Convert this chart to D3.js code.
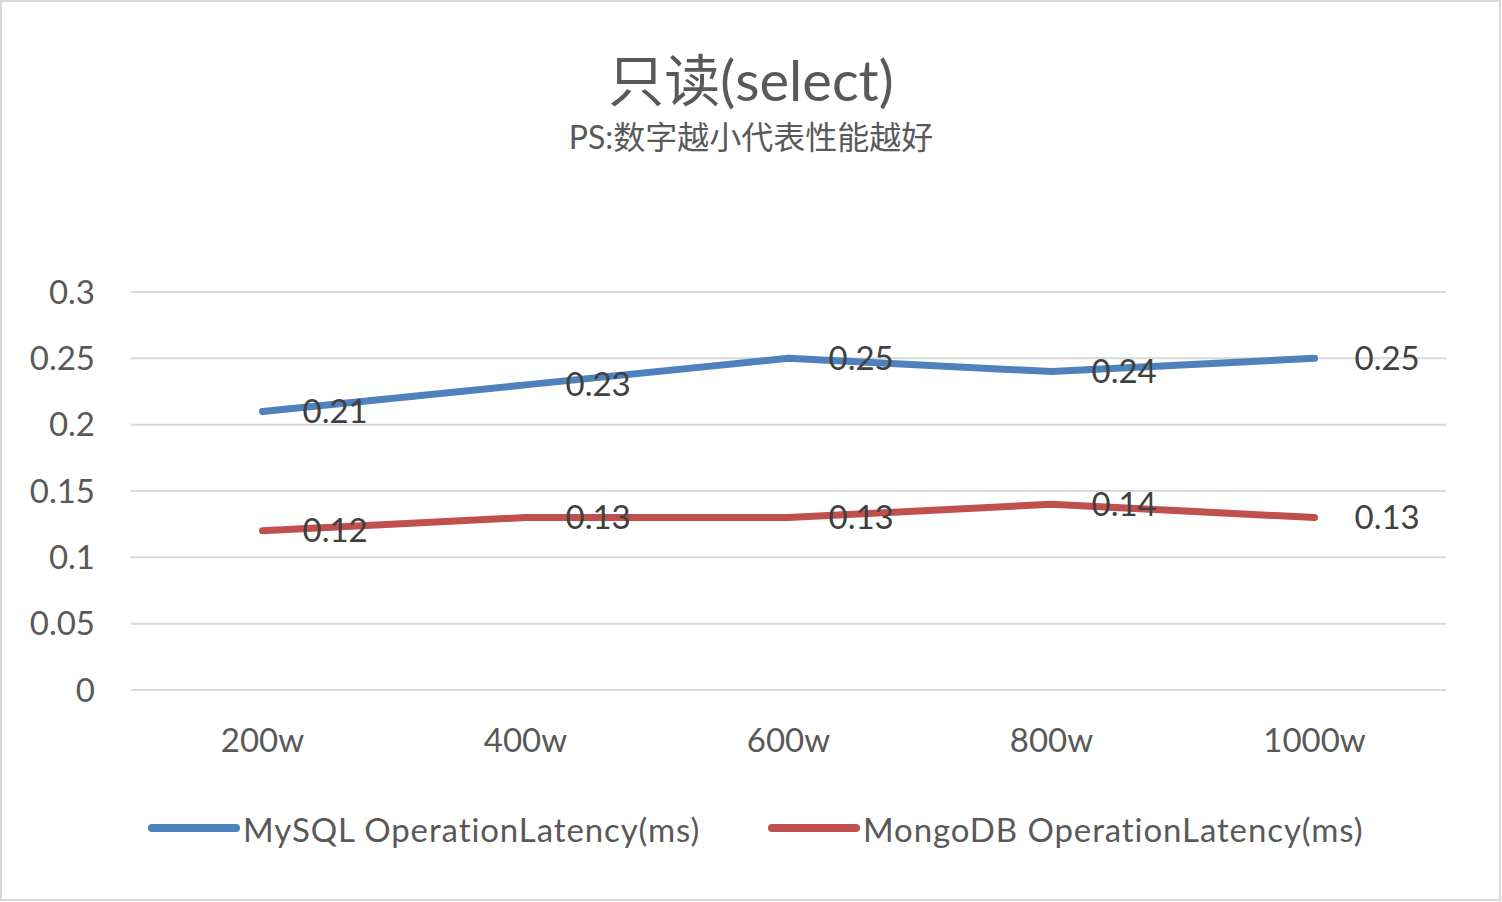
<!DOCTYPE html>
<html>
<head>
<meta charset="utf-8">
<script src="https://cdn.jsdelivr.net/npm/d3@7"></script>
<style>
  body { margin: 0; background: #fff; }
  svg { display: block; font-family: Lato, "Noto Sans CJK SC", sans-serif; }
</style>
</head>
<body>
<svg class="chart"></svg>
<script>
(function() {
  const categories = ["200w", "400w", "600w", "800w", "1000w"];
  const mysql = [0.21, 0.23, 0.25, 0.24, 0.25];
  const mongo = [0.12, 0.13, 0.13, 0.14, 0.13];
  const yTicks = [0, 0.05, 0.1, 0.15, 0.2, 0.25, 0.3];
  const seriesNames = ["MySQL OperationLatency(ms)", "MongoDB OperationLatency(ms)"];
  const colors = ["#4f81bd", "#c0504d"];

  const width = 1502, height = 902;
  const left = 131, right = 1446, top = 292, bottom = 690;

  const svg = d3.select(".chart").attr("width", width).attr("height", height);

  svg.append("rect")
    .attr("x", 1).attr("y", 1)
    .attr("width", width - 3).attr("height", height - 3)
    .attr("fill", "#fff").attr("stroke", "#d9d9d9").attr("stroke-width", 2);

  const x = d3.scaleBand().domain(categories).range([left, right]);
  const y = d3.scaleLinear().domain([0, 0.3]).range([bottom, top]);

  // grid lines
  svg.append("g").selectAll("line")
    .data(yTicks)
    .enter().append("line")
      .attr("x1", left).attr("x2", right)
      .attr("y1", function(d) { return y(d); })
      .attr("y2", function(d) { return y(d); })
      .attr("stroke", "#d9d9d9").attr("stroke-width", 2);

  // y labels
  svg.append("g").selectAll("text")
    .data(yTicks)
    .enter().append("text")
      .attr("x", 95)
      .attr("y", function(d) { return y(d); })
      .attr("dy", ".35em")
      .attr("text-anchor", "end")
      .attr("font-size", 33)
      .attr("fill", "#595959")
      .text(function(d) { return +d.toFixed(2); });

  // x labels
  svg.append("g").selectAll("text")
    .data(categories)
    .enter().append("text")
      .attr("x", function(d) { return x(d) + x.bandwidth() / 2; })
      .attr("y", 740)
      .attr("dy", ".35em")
      .attr("text-anchor", "middle")
      .attr("font-size", 33)
      .attr("fill", "#595959")
      .text(function(d) { return d; });

  const line = d3.line()
    .x(function(d, i) { return x(categories[i]) + x.bandwidth() / 2; })
    .y(function(d) { return y(d); });

  [mysql, mongo].forEach(function(values, s) {
    svg.append("path")
      .attr("d", line(values))
      .attr("fill", "none")
      .attr("stroke", colors[s])
      .attr("stroke-width", 7)
      .attr("stroke-linecap", "round")
      .attr("stroke-linejoin", "round");

    svg.append("g").selectAll("text")
      .data(values)
      .enter().append("text")
        .attr("x", function(d, i) { return x(categories[i]) + x.bandwidth() / 2 + 40; })
        .attr("y", function(d) { return y(d); })
        .attr("dy", ".35em")
        .attr("font-size", 33)
        .attr("fill", "#404040")
        .text(function(d) { return d; });
  });

  // title
  svg.append("text")
    .attr("x", 751).attr("y", 101)
    .attr("text-anchor", "middle")
    .attr("font-size", 56)
    .attr("fill", "#595959")
    .text("只读(select)");

  svg.append("text")
    .attr("x", 751).attr("y", 149)
    .attr("text-anchor", "middle")
    .attr("font-size", 32)
    .attr("fill", "#595959")
    .text("PS:数字越小代表性能越好");

  // legend
  const legendX = [152, 772];
  seriesNames.forEach(function(name, s) {
    svg.append("line")
      .attr("x1", legendX[s]).attr("x2", legendX[s] + 84)
      .attr("y1", 828).attr("y2", 828)
      .attr("stroke", colors[s]).attr("stroke-width", 8)
      .attr("stroke-linecap", "round");
    svg.append("text")
      .attr("x", legendX[s] + 91).attr("y", 830)
      .attr("dy", ".35em")
      .attr("font-size", 33)
      .attr("letter-spacing", 0.9)
      .attr("fill", "#595959")
      .text(name);
  });
})();
</script>
</body>
</html>
